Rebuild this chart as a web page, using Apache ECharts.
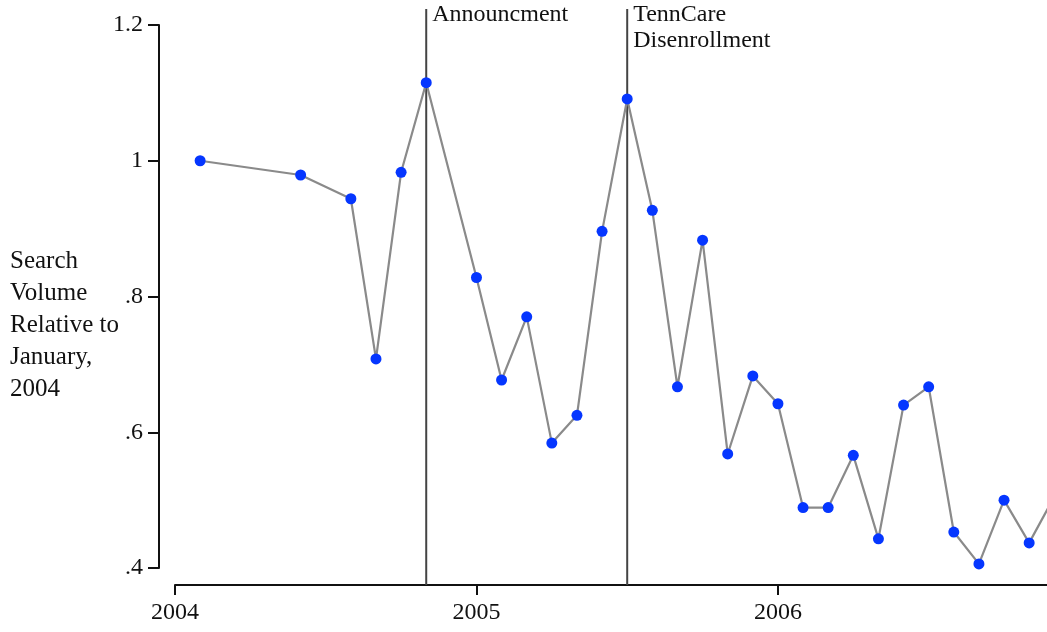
<!DOCTYPE html>
<html style="height: 100%">

<head>
  <meta charset="utf-8">
</head>

<body style="height: 100%; margin: 0; background: #fff">
  <div id="container" style="height: 100%"></div>

  <script type="text/javascript" src="https://fastly.jsdelivr.net/npm/echarts@6.0.0/dist/echarts.min.js"></script>

  <script type="text/javascript">
    // months counted from the start of 2004 (0 = 2004 tick)
    var months = [1, 5, 7, 8, 9, 10, 12, 13, 14, 15, 16, 17, 18, 19, 20, 21, 22, 23, 24,
      25, 26, 27, 28, 29, 30, 31, 32, 33, 34, 35];
    var volume = [1.0, 0.979, 0.944, 0.708, 0.983, 1.115, 0.828, 0.677, 0.770, 0.584,
      0.625, 0.896, 1.091, 0.927, 0.667, 0.883, 0.568, 0.683, 0.642, 0.489,
      0.489, 0.566, 0.443, 0.640, 0.667, 0.453, 0.406, 0.500, 0.437, 0.505];

    var yearTicks = [0, 12, 24];
    var yearLabels = ['2004', '2005', '2006'];

    var eventMonths = [10, 18];
    var eventLabels = ['Announcment', 'TennCare\nDisenrollment'];

    var FONT = '"Liberation Serif", "Times New Roman", serif';
    var XMAX = 34.71;

    var dom = document.getElementById('container');
    var myChart = echarts.init(dom, null, { renderer: 'canvas' });

    var points = months.map(function (m, i) { return [m, volume[i]]; });
    var events = eventMonths.map(function (m, i) { return [m, eventLabels[i]]; });

    var option = {
      animation: false,
      backgroundColor: '#fff',
      title: {
        text: 'Search\nVolume\nRelative to\nJanuary,\n2004',
        left: 10,
        top: 245,
        padding: 0,
        textStyle: {
          fontFamily: FONT,
          fontSize: 25,
          fontWeight: 'normal',
          lineHeight: 32,
          color: '#111'
        }
      },
      grid: [
        { left: 175, right: 0, top: 25, bottom: 64 },
        { left: 175, right: 0, top: 9, bottom: 47 }
      ],
      xAxis: [
        {
          type: 'value',
          gridIndex: 0,
          min: 0,
          max: XMAX,
          offset: 17,
          splitLine: { show: false },
          axisLine: { show: true, onZero: false, lineStyle: { color: '#111', width: 2 } },
          axisTick: { show: true, length: 10, customValues: yearTicks, lineStyle: { color: '#111', width: 2 } },
          axisLabel: {
            customValues: yearTicks,
            margin: 16,
            fontFamily: FONT,
            fontSize: 24,
            color: '#111',
            formatter: function (v) { return yearLabels[yearTicks.indexOf(v)]; }
          }
        },
        {
          type: 'value',
          gridIndex: 1,
          min: 0,
          max: XMAX,
          show: false
        }
      ],
      yAxis: [
        {
          type: 'value',
          gridIndex: 0,
          min: 0.4,
          max: 1.2,
          interval: 0.2,
          offset: 16,
          splitLine: { show: false },
          axisLine: { show: true, onZero: false, lineStyle: { color: '#111', width: 2 } },
          axisTick: { show: true, length: 11, lineStyle: { color: '#111', width: 2 } },
          axisLabel: {
            margin: 16,
            fontFamily: FONT,
            fontSize: 24,
            color: '#111',
            formatter: function (v) {
              return String(Math.round(v * 10) / 10).replace(/^0\./, '.');
            }
          }
        },
        {
          type: 'value',
          gridIndex: 1,
          min: 0,
          max: 1,
          show: false
        }
      ],
      series: [
        {
          type: 'custom',
          xAxisIndex: 1,
          yAxisIndex: 1,
          z: 1,
          data: events,
          renderItem: function (params, api) {
            var x = api.coord([api.value(0), 0])[0];
            var cs = params.coordSys;
            return {
              type: 'group',
              children: [
                {
                  type: 'line',
                  shape: { x1: x, y1: cs.y, x2: x, y2: cs.y + cs.height },
                  style: { stroke: '#444', lineWidth: 2 }
                },
                {
                  type: 'text',
                  style: {
                    text: eventLabels[params.dataIndex],
                    x: x + 6,
                    y: cs.y - 7,
                    verticalAlign: 'top',
                    align: 'left',
                    font: '24px ' + FONT,
                    lineHeight: 26,
                    fill: '#111'
                  }
                }
              ]
            };
          }
        },
        {
          type: 'line',
          xAxisIndex: 0,
          yAxisIndex: 0,
          z: 3,
          data: points,
          symbol: 'circle',
          symbolSize: 11,
          showAllSymbol: true,
          lineStyle: { color: '#8a8a8a', width: 2.2 },
          itemStyle: { color: '#0536ff', borderWidth: 0 }
        }
      ]
    };

    myChart.setOption(option);
    window.addEventListener('resize', myChart.resize);
  </script>
</body>

</html>
